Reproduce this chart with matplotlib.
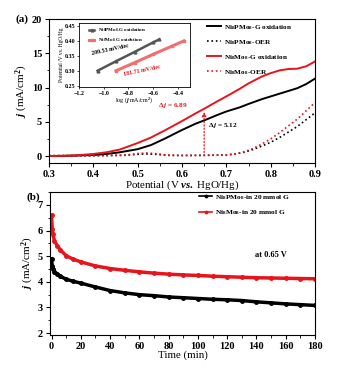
#!/usr/bin/env python3
import numpy as np
import matplotlib
matplotlib.use("Agg")
import matplotlib.pyplot as plt
from matplotlib.ticker import AutoMinorLocator

plt.rcParams['font.family'] = ['Liberation Serif', 'DejaVu Serif']
plt.rcParams['font.weight'] = 'bold'
plt.rcParams['mathtext.fontset'] = 'custom'
plt.rcParams['mathtext.rm'] = 'Liberation Serif:bold'
plt.rcParams['mathtext.it'] = 'Liberation Serif:bold:italic'
plt.rcParams['mathtext.bf'] = 'Liberation Serif:bold'

RED = '#e8141c'

# (a) LSV curves, potential in V vs HgO/Hg, j in mA/cm2
pot = [0.30, 0.33, 0.36, 0.40, 0.43, 0.46, 0.50, 0.53, 0.56, 0.60, 0.63, 0.65,
       0.68, 0.70, 0.73, 0.75, 0.78, 0.80, 0.82, 0.84, 0.86, 0.88, 0.90]
j_pmo_g = [0.0, 0.02, 0.06, 0.15, 0.3, 0.55, 1.0, 1.6, 2.5, 3.8, 4.7, 5.2,
           6.0, 6.5, 7.1, 7.6, 8.3, 8.7, 9.1, 9.5, 9.9, 10.5, 11.3]
j_mo_g = [0.0, 0.03, 0.1, 0.3, 0.55, 0.95, 1.9, 2.7, 3.7, 5.1, 6.2, 6.9,
          8.0, 8.7, 9.8, 10.6, 11.6, 12.1, 12.5, 12.7, 12.75, 13.1, 13.8]

pot_oer = [0.30, 0.40, 0.47, 0.50, 0.52, 0.54, 0.57, 0.60, 0.65, 0.70, 0.72,
           0.74, 0.76, 0.78, 0.80, 0.82, 0.84, 0.86, 0.88, 0.90]
j_pmo_oer = [0.05, 0.05, 0.1, 0.25, 0.3, 0.25, 0.1, 0.08, 0.1, 0.15, 0.3,
             0.55, 0.95, 1.45, 2.0, 2.7, 3.5, 4.3, 5.3, 6.3]
j_mo_oer = [0.05, 0.05, 0.12, 0.35, 0.45, 0.35, 0.12, 0.08, 0.1, 0.15, 0.32,
            0.6, 1.1, 1.75, 2.5, 3.4, 4.4, 5.4, 6.6, 7.8]

# inset Tafel data
logj_pmo = [-1.05, -0.9, -0.75, -0.6, -0.55]
v_pmo = [0.300, 0.332, 0.363, 0.395, 0.405]
logj_mo = [-0.9, -0.75, -0.6, -0.45, -0.35]
v_mo = [0.300, 0.327, 0.355, 0.382, 0.400]

# (b) chronoamperometry at 0.65 V
t = [0, 0.5, 1, 2, 4, 6, 10, 15, 20, 30, 40, 50, 60, 70, 80, 90, 100, 110, 120,
     130, 140, 150, 160, 170, 180]
j_pmo_t = [4.9, 4.6, 4.5, 4.4, 4.3, 4.22, 4.1, 4.02, 3.95, 3.8, 3.66, 3.57, 3.5,
           3.46, 3.41, 3.38, 3.35, 3.32, 3.3, 3.27, 3.22, 3.18, 3.14, 3.11, 3.08]
j_mo_t = [6.6, 6.05, 5.85, 5.6, 5.4, 5.25, 5.02, 4.88, 4.78, 4.62, 4.52, 4.45,
          4.39, 4.34, 4.3, 4.27, 4.25, 4.22, 4.2, 4.18, 4.16, 4.15, 4.14, 4.13, 4.12]

fig = plt.figure(figsize=(3.5, 3.66), dpi=100)

ax1 = fig.add_axes([0.14, 0.555, 0.76, 0.393])
ax1.plot(pot, j_pmo_g, color='black', lw=1.4, label='Ni$_8$PMo$_8$-G oxidation')
ax1.plot(pot_oer, j_pmo_oer, color='black', lw=1.2, ls=':', label='Ni$_8$PMo$_8$-OER')
ax1.plot(pot, j_mo_g, color=RED, lw=1.4, label='Ni$_8$Mo$_8$-G oxidation')
ax1.plot(pot_oer, j_mo_oer, color=RED, lw=1.2, ls=':', label='Ni$_8$Mo$_8$-OER')
ax1.annotate('', xy=(0.65, 6.85), xytext=(0.65, 0.1),
             arrowprops=dict(arrowstyle='-|>', color=RED, lw=0.9, ls=':',
                             mutation_scale=6))
ax1.text(0.545, 7.1, r'$\Delta\,j$ = 6.89', color=RED, fontsize=5.2)
ax1.text(0.658, 4.3, r'$\Delta\,j$ = 5.12', color='black', fontsize=5.2)
ax1.set_xlim(0.3, 0.9)
ax1.set_ylim(-1, 20)
ax1.set_xticks([0.3, 0.4, 0.5, 0.6, 0.7, 0.8, 0.9])
ax1.set_yticks([0, 5, 10, 15, 20])
ax1.xaxis.set_minor_locator(AutoMinorLocator(2))
ax1.yaxis.set_minor_locator(AutoMinorLocator(2))
ax1.tick_params(labelsize=7.5, length=3, width=0.8, pad=2)
ax1.tick_params(which='minor', length=1.8, width=0.6)
ax1.set_xlabel('Potential (V $\\it{vs.}$ HgO/Hg)', fontsize=7.8, labelpad=0)
ax1.set_ylabel('$\\it{j}$ (mA/cm$^2$)', fontsize=8, labelpad=1)
ax1.legend(loc='upper right', fontsize=5.2, frameon=False, handlelength=2.0,
           handletextpad=0.4, labelspacing=0.85, bbox_to_anchor=(0.94, 1.02))
fig.text(0.045, 0.94, '(a)', fontsize=8)

# inset
axi = fig.add_axes([0.226, 0.762, 0.317, 0.175])
axi.plot(logj_pmo, v_pmo, color='#555555', lw=1.8, marker='^', ms=2,
         label='Ni$_8$PMo$_8$-G oxidation')
axi.plot(logj_mo, v_mo, color='#f07070', lw=2.2, marker='s', ms=1.5,
         label='Ni$_8$Mo$_8$-G oxidation')
axi.text(-1.1, 0.352, '209.53 mV/dec', fontsize=4.3, rotation=12)
axi.text(-0.84, 0.283, '181.71 mV/dec', fontsize=4.3, rotation=12, color=RED)
axi.set_xlim(-1.2, -0.3)
axi.set_ylim(0.245, 0.46)
axi.set_xticks([-1.2, -1.0, -0.8, -0.6, -0.4])
axi.set_yticks([0.25, 0.30, 0.35, 0.40, 0.45])
axi.tick_params(labelsize=4.3, length=1.5, width=0.5, pad=1)
axi.set_xlabel('log ($\\it{j}$ mA/cm$^2$)', fontsize=4.3, labelpad=0)
axi.set_ylabel('Potential /V vs. HgO/Hg', fontsize=4.0, labelpad=1)
axi.legend(loc='upper left', fontsize=3.6, frameon=False, handlelength=1.0,
           markerscale=1.0, bbox_to_anchor=(0.05, 1.02))
for s in axi.spines.values():
    s.set_linewidth(0.6)

# (b)
ax2 = fig.add_axes([0.143, 0.085, 0.757, 0.39])
ax2.plot(t, j_pmo_t, color='black', lw=2.5, marker='o', ms=2.5,
         label='Ni$_8$PMo$_8$-in 20 mmol G')
ax2.plot(t, j_mo_t, color=RED, lw=2.5, marker='o', ms=2.5,
         label='Ni$_8$Mo$_8$-in 20 mmol G')
ax2.text(139, 4.95, 'at 0.65 V', fontsize=6)
ax2.set_xlim(-1, 180)
ax2.set_ylim(1.93, 7.5)
ax2.set_xticks(np.arange(0, 181, 20))
ax2.set_yticks([2, 3, 4, 5, 6, 7])
ax2.xaxis.set_minor_locator(AutoMinorLocator(2))
ax2.yaxis.set_minor_locator(AutoMinorLocator(2))
ax2.tick_params(labelsize=7.5, length=3, width=0.8, pad=2)
ax2.tick_params(which='minor', length=1.8, width=0.6)
ax2.set_xlabel('Time (min)', fontsize=7.8, labelpad=0)
ax2.set_ylabel('$\\it{j}$ (mA/cm$^2$)', fontsize=8, labelpad=1)
leg = ax2.legend(loc='upper right', fontsize=5.3, frameon=False, handlelength=1.8,
                 handletextpad=0.3, markerscale=0.7, labelspacing=0.9,
                 bbox_to_anchor=(0.93, 1.04))
for h in leg.get_lines():
    h.set_linewidth(1.2)
fig.text(0.075, 0.455, '(b)', fontsize=8)

fig.savefig('out.png', dpi=100)
